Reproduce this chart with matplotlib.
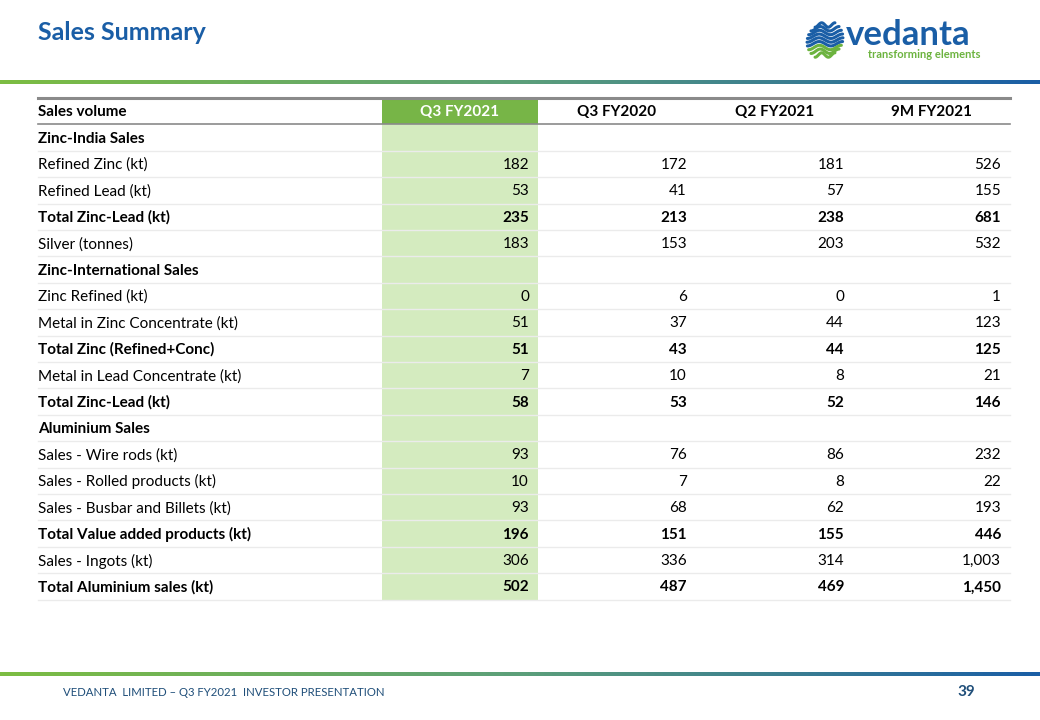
import numpy as np
import matplotlib
matplotlib.use("Agg")
import matplotlib.pyplot as plt
from matplotlib.colors import LinearSegmentedColormap
import matplotlib.patches as mpatches

# ---------------- data ----------------
title = "Sales Summary"
header_label = "Sales volume"
columns = ["Q3 FY2021", "Q3 FY2020", "Q2 FY2021", "9M FY2021"]
row_labels = [
    "Zinc-India Sales", "Refined Zinc (kt)", "Refined Lead (kt)", "Total Zinc-Lead (kt)",
    "Silver (tonnes)", "Zinc-International Sales", "Zinc Refined (kt)",
    "Metal in Zinc Concentrate (kt)", "Total Zinc (Refined+Conc)",
    "Metal in Lead Concentrate (kt)", "Total Zinc-Lead (kt)", "Aluminium Sales",
    "Sales - Wire rods (kt)", "Sales - Rolled products (kt)",
    "Sales - Busbar and Billets (kt)", "Total Value added products (kt)",
    "Sales - Ingots (kt)", "Total Aluminium sales (kt)",
]
bold_rows = [True, False, False, True, False, True, False, False, True,
             False, True, True, False, False, False, True, False, True]
q3_fy2021 = [None, 182, 53, 235, 183, None, 0, 51, 51, 7, 58, None, 93, 10, 93, 196, 306, 502]
q3_fy2020 = [None, 172, 41, 213, 153, None, 6, 37, 43, 10, 53, None, 76, 7, 68, 151, 336, 487]
q2_fy2021 = [None, 181, 57, 238, 203, None, 0, 44, 44, 8, 52, None, 86, 8, 62, 155, 314, 469]
m9_fy2021 = [None, 526, 155, 681, 532, None, 1, 123, 125, 21, 146, None, 232, 22, 193, 446, 1003, 1450]
footer = "VEDANTA  LIMITED \u2013 Q3 FY2021  INVESTOR PRESENTATION"
page_no = "39"
logo_name = "vedanta"
logo_tag = "transforming elements"

# ---------------- styling ----------------
FONT = ["Lato", "DejaVu Sans"]
plt.rcParams["font.family"] = FONT
BLUE = "#1a5ea6"
GREEN = "#77b547"
LIGHT_GREEN = "#d4ebbf"

fig = plt.figure(figsize=(10.4, 7.2), dpi=100)
ax = fig.add_axes([0, 0, 1, 1])
ax.set_xlim(0, 1040)
ax.set_ylim(720, 0)
ax.axis("off")

# title
ax.text(38, 32, title, fontsize=18, fontweight="bold", color=BLUE, va="center", ha="left")

# gradient bars
grad_cmap = LinearSegmentedColormap.from_list("g", ["#7cbd42", "#5c9f7a", "#1a5ea6"])
grad = np.linspace(0, 1, 512).reshape(1, -1)
ax.imshow(grad, cmap=grad_cmap, extent=[0, 1040, 84, 80], aspect="auto", zorder=1)
ax.imshow(grad, cmap=grad_cmap, extent=[0, 1040, 676, 672], aspect="auto", zorder=1)

# logo: emblem
cx, cy, r = 825, 40, 18
for i, yy in enumerate(np.linspace(-15, 15, 9)):
    t = np.linspace(-1, 1, 60)
    half = np.sqrt(max(r**2 - yy**2, 0))
    xs = cx + t * half
    ys = cy + yy + 2.2 * np.sin(t * np.pi * 1.5)
    col = "#1a5ea6" if i < 6 else "#6cb33f"
    ax.plot(xs, ys, color=col, lw=2.2, solid_capstyle="round", zorder=3)
ax.text(846, 45, logo_name, fontsize=25, fontweight="bold", color=BLUE, va="baseline", ha="left")
ax.text(868, 49, logo_tag, fontsize=8, fontweight="bold", color="#6cb33f",
        va="top", ha="left")

# table geometry
left, right = 38, 1010
col_edges = [382, 538, 696, 853, 1010]
top = 98
row_h = 26.4
n_rows = len(row_labels) + 1

# green column
ax.add_patch(mpatches.Rectangle((col_edges[0], top), col_edges[1] - col_edges[0], row_h,
                                facecolor=GREEN, edgecolor="none", zorder=1))
ax.add_patch(mpatches.Rectangle((col_edges[0], top + row_h), col_edges[1] - col_edges[0],
                                row_h * (n_rows - 1), facecolor=LIGHT_GREEN, edgecolor="none", zorder=1))

# lines
ax.plot([left, right], [top, top], color="#8a8a8a", lw=2.2, zorder=4)
ax.plot([left, right], [top + row_h, top + row_h], color="#8a8a8a", lw=1.2, zorder=4)
for k in range(2, n_rows + 1):
    y = top + k * row_h
    ax.plot([left, right], [y, y], color="#ebebeb", lw=1.0, zorder=2)

FS = 11
# header
hy = top + row_h / 2 + 1
ax.text(left, hy, header_label, fontsize=FS, fontweight="bold", va="center", ha="left", color="black", zorder=5)
for j, c in enumerate(columns):
    xc = (col_edges[j] + col_edges[j + 1]) / 2
    ax.text(xc, hy, c, fontsize=FS, fontweight="bold", va="center", ha="center",
            color="white" if j == 0 else "black", zorder=5)

series = [q3_fy2021, q3_fy2020, q2_fy2021, m9_fy2021]
for i, lab in enumerate(row_labels):
    y = top + (i + 1) * row_h + row_h / 2 + 1
    w = "bold" if bold_rows[i] else "normal"
    ax.text(left, y, lab, fontsize=FS, fontweight=w, va="center", ha="left", color="black", zorder=5)
    for j, s in enumerate(series):
        v = s[i]
        if v is None:
            continue
        ax.text(col_edges[j + 1] - 9, y, f"{v:,}", fontsize=FS, fontweight=w,
                va="center", ha="right", color="black", zorder=5)

# footer
ax.text(63, 693, footer, fontsize=8.2, color="#1f4e79", va="center", ha="left")
ax.text(975, 692, page_no, fontsize=11, fontweight="bold", color="#1f4e79", va="center", ha="right")

fig.savefig("out.png", dpi=100)
